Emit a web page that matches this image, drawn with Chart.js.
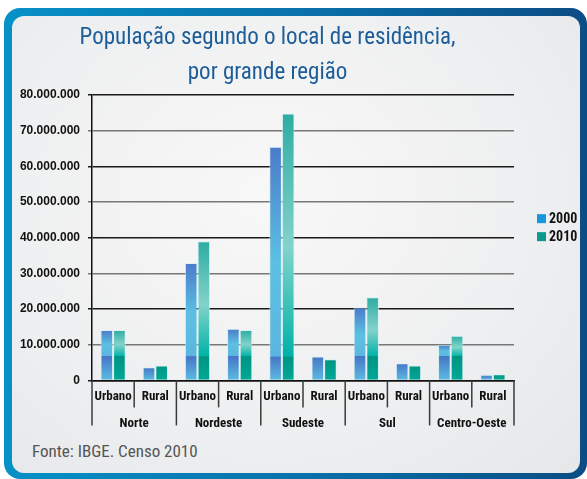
<!DOCTYPE html>
<html>
<head>
<meta charset="utf-8">
<script src="https://cdn.jsdelivr.net/npm/chart.js@4/dist/chart.umd.min.js"></script>
<style>
  body { margin: 0; background: #fff; }
  #frame {
    position: absolute; left: 4px; top: 8px; width: 583px; height: 471px;
    border-radius: 16px;
    background: linear-gradient(90deg, #0791c6 0%, #0a72ab 50%, #0b4d84 100%);
  }
  #panel {
    position: absolute; left: 8px; top: 8px; right: 7px; bottom: 6px;
    border-radius: 12px;
    background: radial-gradient(ellipse at 45% 40%, #f8f8f8 0%, #eeeff0 60%, #e5e7e8 100%);
  }
  #fonte {
    position: absolute; left: 32px; top: 441px;
    font: 17px "Liberation Sans Narrow", "Roboto Condensed", Roboto, sans-serif;
    color: #555;
  }
  canvas { position: absolute; left: 0; top: 0; }
</style>
</head>
<body>
<div id="frame"><div id="panel"></div></div>
<div id="fonte">Fonte: IBGE. Censo 2010</div>
<canvas id="chart" width="587" height="479"></canvas>
<script>
const regions = ["Norte", "Nordeste", "Sudeste", "Sul", "Centro-Oeste"];
const categories = ["Urbano", "Rural", "Urbano", "Rural", "Urbano", "Rural", "Urbano", "Rural", "Urbano", "Rural"];
const pop2000 = [14100000, 3700000, 32900000, 14500000, 65500000, 6700000, 20400000, 4800000, 10000000, 1600000];
const pop2010 = [14100000, 4200000, 39000000, 14100000, 74800000, 5900000, 23300000, 4200000, 12500000, 1700000];
const seriesNames = ["2000", "2010"];
const legendColors = ["#1a97dc", "#0b9a8d"];

const narrow = '"Liberation Sans Narrow", "Roboto Condensed", Roboto, sans-serif';

const palettes = [
    { top: "#4a7bca", mid: "#5cc0e2", low: "#5bb6df", bandTop: "#4676c7", bandBottom: "#5cbbe1" },
    { top: "#2eaca2", mid: "#82d3cb", low: "#00b2a7", bandTop: "#009482", bandBottom: "#00a897" }
];

function barFill(context) {
    const chart = context.chart;
    const pal = palettes[context.datasetIndex];
    if (!chart.chartArea || context.raw == null) return pal.low;
    const ys = chart.scales.y;
    const top = ys.getPixelForValue(context.raw);
    const base = ys.getPixelForValue(0);
    const h = base - top;
    if (h <= 0) return pal.low;
    const g = chart.ctx.createLinearGradient(0, top, 0, base);
    const cut = Math.max(0, (h - 24) / h);
    if (cut > 0) {
        g.addColorStop(0, pal.top);
        g.addColorStop(cut * 0.55, pal.mid);
        g.addColorStop(cut, pal.low);
        g.addColorStop(Math.min(1, cut + 0.001), pal.bandTop);
        g.addColorStop(1, pal.bandBottom);
    } else {
        g.addColorStop(0, pal.bandTop);
        g.addColorStop(1, pal.bandBottom);
    }
    return g;
}

function formatBR(v) {
    return String(v).replace(/\B(?=(\d{3})+(?!\d))/g, ".");
}

// separators + region names under the axis, and the legend at right
const axisDecor = {
    id: "axisDecor",
    afterDraw(chart) {
        const { ctx, chartArea } = chart;
        const x = chart.scales.x;
        const half = (x.getPixelForValue(1) - x.getPixelForValue(0)) / 2;
        const y0 = chartArea.bottom;
        ctx.save();
        ctx.strokeStyle = "#3a3a3a";
        ctx.lineWidth = 1.5;
        for (let i = 0; i <= categories.length; i++) {
            const px = i < categories.length ? x.getPixelForValue(i) - half : x.getPixelForValue(i - 1) + half;
            ctx.beginPath();
            ctx.moveTo(px, y0);
            ctx.lineTo(px, y0 + (i % 2 === 0 ? 45 : 27));
            ctx.stroke();
        }
        ctx.fillStyle = "#111";
        ctx.font = "bold 13px " + narrow;
        ctx.textAlign = "center";
        ctx.textBaseline = "middle";
        regions.forEach((r, i) => {
            const cx = (x.getPixelForValue(i * 2) + x.getPixelForValue(i * 2 + 1)) / 2;
            ctx.fillText(r, cx, y0 + 43);
        });

        const mid = (chartArea.top + chartArea.bottom) / 2;
        ctx.textAlign = "left";
        ctx.font = "bold 14px " + narrow;
        seriesNames.forEach((name, i) => {
            const cy = mid - 19 + i * 18;
            ctx.fillStyle = legendColors[i];
            ctx.fillRect(chartArea.right + 23, cy - 4.5, 9, 9);
            ctx.fillStyle = "#111";
            ctx.fillText(name, chartArea.right + 35, cy + 1);
        });
        ctx.restore();
    }
};

new Chart(document.getElementById("chart"), {
    type: "bar",
    data: {
        labels: categories,
        datasets: [
            { label: seriesNames[0], data: pop2000, backgroundColor: barFill },
            { label: seriesNames[1], data: pop2010, backgroundColor: barFill }
        ]
    },
    options: {
        responsive: false,
        animation: false,
        devicePixelRatio: 1,
        layout: { padding: { left: 12, right: 64, top: 0, bottom: 73 } },
        datasets: {
            bar: {
                borderColor: "rgba(210, 240, 242, 0.7)",
                borderWidth: 1,
                borderSkipped: "start",
                categoryPercentage: 0.6,
                barPercentage: 1.0
            }
        },
        plugins: {
            colors: { enabled: false },
            legend: { display: false },
            tooltip: { enabled: false },
            title: {
                display: true,
                text: ["População segundo o local de residência,", "por grande região"],
                color: "#1c5d99",
                font: { family: narrow, size: 23, weight: "normal", lineHeight: 1.52 },
                padding: { top: 21, bottom: 4 }
            }
        },
        scales: {
            x: {
                grid: { display: false },
                border: { color: "#111", width: 1.5 },
                ticks: {
                    color: "#111",
                    padding: 1,
                    maxRotation: 0,
                    autoSkip: false,
                    font: { family: narrow, size: 13, weight: "bold" }
                }
            },
            y: {
                min: 0,
                max: 80000000,
                afterFit(scale) { scale.width = 80; },
                grid: {
                    tickLength: 4,
                    lineWidth: 1.5,
                    color: (c) => (c.index % 2 === 0 ? "#1a1a1a" : "#777")
                },
                border: { color: "#111", width: 1.5 },
                ticks: {
                    stepSize: 10000000,
                    padding: 8,
                    color: "#111",
                    font: { family: '"Liberation Sans", Arial, sans-serif', size: 12, weight: "bold" },
                    callback: (v) => formatBR(v)
                }
            },
            // empty right-hand spacer so the title sits where it does in the original
            spacer: {
                type: "linear",
                position: "right",
                afterFit(scale) { scale.width = 9; },
                grid: { display: false },
                border: { display: false },
                ticks: { display: false }
            }
        }
    },
    plugins: [axisDecor]
});
</script>
</body>
</html>
